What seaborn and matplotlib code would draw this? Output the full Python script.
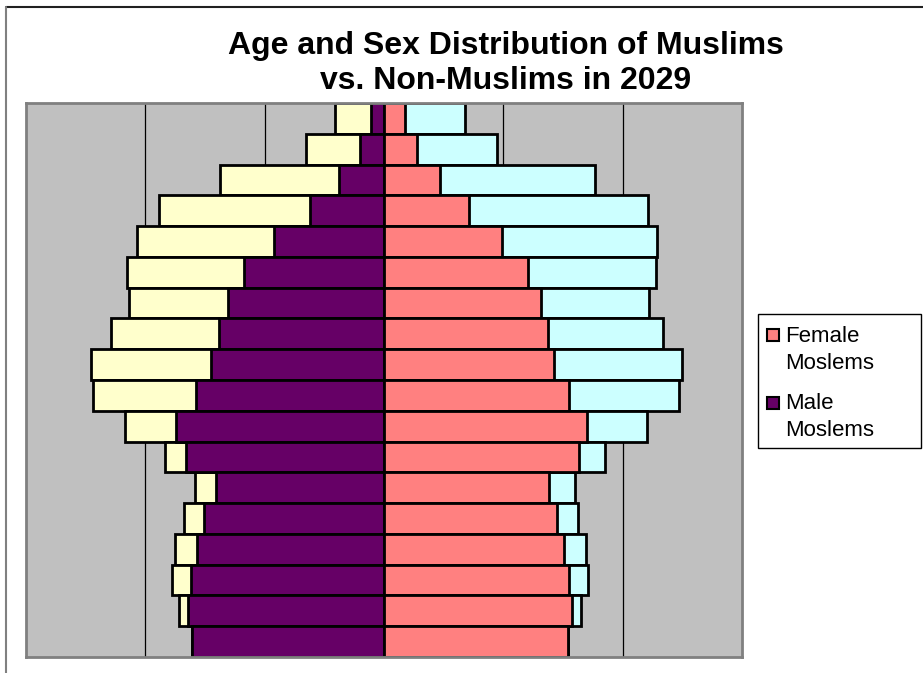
import matplotlib
matplotlib.use("Agg")
import matplotlib.pyplot as plt
from matplotlib.patches import Rectangle
from matplotlib.lines import Line2D
import seaborn as sns
import pandas as pd

# Age groups, oldest at top
ages = ["85+", "80-84", "75-79", "70-74", "65-69", "60-64", "55-59", "50-54", "45-49",
        "40-44", "35-39", "30-34", "25-29", "20-24", "15-19", "10-14", "5-9", "0-4"]
male_muslim = [0.113, 0.203, 0.376, 0.622, 0.919, 1.176, 1.310, 1.386, 1.447,
               1.573, 1.741, 1.662, 1.411, 1.512, 1.567, 1.617, 1.643, 1.609]
male_total = [0.407, 0.653, 1.378, 1.889, 2.074, 2.152, 2.141, 2.286, 2.454,
              2.437, 2.174, 1.836, 1.584, 1.680, 1.755, 1.777, 1.716, 1.609]
female_muslim = [0.180, 0.279, 0.468, 0.715, 0.986, 1.206, 1.316, 1.372, 1.428,
                 1.550, 1.705, 1.634, 1.383, 1.453, 1.509, 1.553, 1.579, 1.545]
female_total = [0.675, 0.946, 1.766, 2.216, 2.289, 2.280, 2.222, 2.336, 2.496,
                2.468, 2.200, 1.852, 1.598, 1.626, 1.696, 1.713, 1.648, 1.545]
legend_labels = [["Female", "Moslems"], ["Male", "Moslems"]]
title_lines = ["Age and Sex Distribution of Muslims", "vs. Non-Muslims in 2029"]

df = pd.DataFrame({
    "age": ages,
    "male_muslim": [-v for v in male_muslim],
    "male_total": [-v for v in male_total],
    "female_muslim": female_muslim,
    "female_total": female_total,
})

C_MALE_M = "#660066"
C_MALE_N = "#FFFFCC"
C_FEM_M = "#FF8080"
C_FEM_N = "#CCFFFF"

sns.set_style("white")
plt.rcParams["font.family"] = ["Liberation Sans", "DejaVu Sans"]

W, H = 923, 673
fig = plt.figure(figsize=(W / 100, H / 100), dpi=100)
ax = fig.add_axes([26 / W, 1 - 657 / H, (742 - 26) / W, (657 - 103) / H])
ax.set_facecolor("#C0C0C0")

for xv in [-2, -1, 1, 2]:
    ax.axvline(xv, color="#000000", lw=0.9, zorder=0.5)

kw = dict(orient="h", width=1.0, edgecolor="black", linewidth=2.0, ax=ax, zorder=2)
sns.barplot(data=df, x="male_total", y="age", order=ages, color=C_MALE_N, saturation=1, **kw)
sns.barplot(data=df, x="female_total", y="age", order=ages, color=C_FEM_N, saturation=1, **kw)
sns.barplot(data=df, x="male_muslim", y="age", order=ages, color=C_MALE_M, saturation=1, **kw)
sns.barplot(data=df, x="female_muslim", y="age", order=ages, color=C_FEM_M, saturation=1, **kw)

ax.set_xlim(-3, 3)
ax.set_ylim(len(ages) - 0.5, -0.5)
ax.set_xlabel("")
ax.set_ylabel("")
ax.set_xticks([])
ax.set_yticks([])
for s in ax.spines.values():
    s.set_visible(True)
    s.set_color("#808080")
    s.set_linewidth(2)

fig.text(506 / W, 1 - 46 / H, title_lines[0],
         ha="center", va="center", fontsize=23, fontweight="bold", color="black")
fig.text(506 / W, 1 - 81 / H, title_lines[1],
         ha="center", va="center", fontsize=23, fontweight="bold", color="black")

# Legend (drawn as figure artists)
def fx(px):
    return px / W

def fy(py):
    return 1 - py / H

fig.add_artist(Rectangle((fx(758), fy(448)), (921 - 758) / W, (448 - 314) / H,
                         transform=fig.transFigure, facecolor="white",
                         edgecolor="black", linewidth=1.0))
legend_colors = [C_FEM_M, C_MALE_M]
square_tops = [329, 397]
baselines = [(342, 369), (409, 436)]
for col, top, (b1, b2), lab in zip(legend_colors, square_tops, baselines, legend_labels):
    fig.add_artist(Rectangle((fx(767), fy(top + 12)), 12 / W, 12 / H,
                             transform=fig.transFigure, facecolor=col,
                             edgecolor="black", linewidth=1.5))
    fig.text(fx(785), fy(b1), lab[0], ha="left", va="baseline", fontsize=16, color="black")
    fig.text(fx(785), fy(b2), lab[1], ha="left", va="baseline", fontsize=16, color="black")

# outer chart frame (top and left only)
fig.add_artist(Line2D([6 / W, 1], [1 - 7 / H, 1 - 7 / H], color="#202020", lw=1.5,
                      transform=fig.transFigure))
fig.add_artist(Line2D([6 / W, 6 / W], [0, 1 - 7 / H], color="#808080", lw=1.5,
                      transform=fig.transFigure))

fig.savefig("out.png", dpi=100)
